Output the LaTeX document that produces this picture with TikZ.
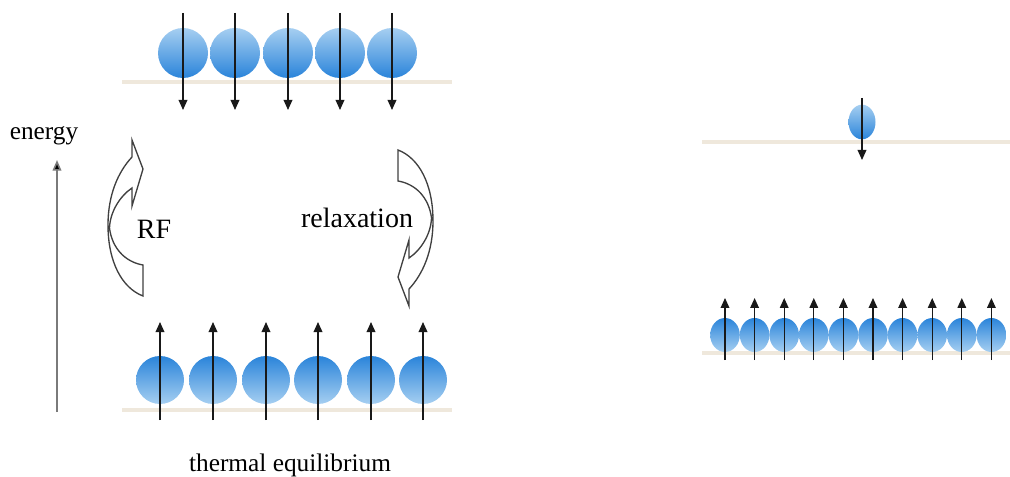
\documentclass[tikz,border=0pt]{standalone}
\usepackage{fontspec}
\setmainfont{Liberation Serif}
\usetikzlibrary{arrows.meta,shapes.geometric,calc}
\definecolor{lvl}{HTML}{EFE8DC}
\definecolor{bdark}{HTML}{2A84DA}
\definecolor{blight}{HTML}{A6CFF1}
\definecolor{axisgray}{HTML}{7A7A7A}
\tikzset{
  level/.style={draw=lvl, line width=3.6pt},
  ball/.style={ellipse, inner sep=0pt, draw=none},
  upper/.style={ball, top color=blight, bottom color=bdark},
  lower/.style={ball, top color=bdark, bottom color=blight},
  spin/.style={draw=black!90, line width=1pt, -{Triangle[length=7.5pt,width=6.5pt]}},
  bigarrow/.style={draw=black!75, line width=1pt, fill=white, line join=miter},
  lbl/.style={font=\fontsize{19}{22}\selectfont, inner sep=0pt},
  curvarrow/.pic={
    \draw[bigarrow] (15.5,76) .. controls (-5.5,68) and (-19.5,42) .. (-19.5,5)
      .. controls (-19.5,-25) and (-9.5,-48) .. (4.5,-63) -- (4.5,-80) -- (15.5,-51)
      -- (4.5,-14) -- (4.5,-32) .. controls (-7.5,-24) and (-17.5,-8) .. (-18,8)
      .. controls (-15.5,28) and (-2.5,42) .. (15.5,45) -- cycle;
  }
}
\begin{document}
\begin{tikzpicture}[x=0.75pt,y=-0.75pt]
\useasboundingbox (0,0) rectangle (1010,477);

% energy levels
\coordinate (lt0) at (122,82);  \coordinate (lt1) at (452,82);
\coordinate (lb0) at (122,410); \coordinate (lb1) at (452,410);
\coordinate (rt0) at (702,142); \coordinate (rt1) at (1010,142);
\coordinate (rb0) at (702,353); \coordinate (rb1) at (1010,353);
\draw[level] (lt0) -- (lt1);
\draw[level] (lb0) -- (lb1);
\draw[level] (rt0) -- (rt1);
\draw[level] (rb0) -- (rb1);

% upper spins, left
\foreach \i/\x in {1/183,2/235,3/288,4/340,5/392}{
  \node[upper, minimum width=37.5pt, minimum height=37.5pt] (u\i) at (\x,53) {};
  \draw[spin] ($(u\i)+(0,-40)$) -- ($(u\i)+(0,57)$);
}
% lower spins, left
\foreach \i/\x in {1/160,2/213,3/266,4/318,5/371,6/423}{
  \node[lower, minimum width=36pt, minimum height=36pt] (d\i) at (\x,380) {};
  \draw[spin] ($(d\i)+(0,40)$) -- ($(d\i)+(0,-58)$);
}
% right upper spin
\node[upper, minimum width=20.25pt, minimum height=26pt] (ru) at (862,122) {};
\draw[spin] ($(ru)+(0,-24)$) -- ($(ru)+(0,38)$);
% right lower spins
\foreach \i in {0,...,9}{
  \node[lower, minimum width=22.2pt, minimum height=25.5pt] (rd\i) at (725+29.6*\i,335) {};
  \draw[spin] ($(rd\i)+(0,25)$) -- ($(rd\i)+(0,-37)$);
}

% energy axis
\node[lbl] (energy) at (44,136) {energy};
\coordinate (e0) at (57,412);
\coordinate (e1) at (57,160);
\draw[draw=axisgray, line width=1.2pt, -{Triangle[length=8pt,width=6.5pt,fill=black]}] (e0) -- (e1);

% curved arrows
\pic at (127.5,220) {curvarrow};
\pic[rotate=180] at (413.5,226) {curvarrow};
\node[lbl, font=\fontsize{21}{24}\selectfont] (rf) at (154,229) {RF};
\node[lbl, font=\fontsize{21}{24}\selectfont] (relax) at (357,218) {relaxation};

\node[lbl] (thermal) at (290,465) {thermal equilibrium};
\end{tikzpicture}
\end{document}
